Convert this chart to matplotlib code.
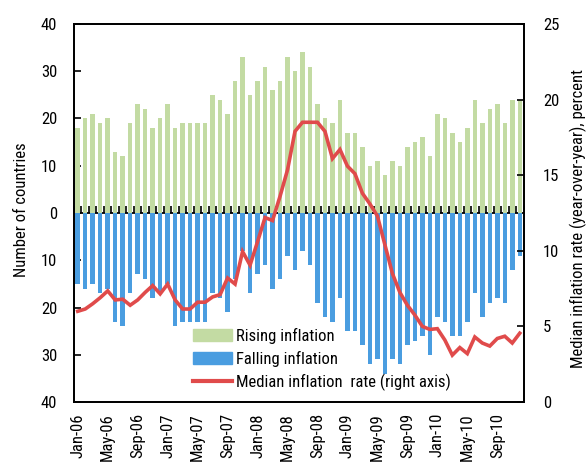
import numpy as np
import matplotlib
matplotlib.use("Agg")
import matplotlib.pyplot as plt
from matplotlib import font_manager as fm
from matplotlib.patches import Patch
from matplotlib.lines import Line2D

# ---------------- data ----------------
years = ["06", "07", "08", "09", "10"]
month_names = ["Jan", "Feb", "Mar", "Apr", "May", "Jun",
               "Jul", "Aug", "Sep", "Oct", "Nov", "Dec"]
months = [f"{m}-{y}" for y in years for m in month_names]

rising = [18, 20, 21, 19, 20, 13, 12, 19, 23, 22,
          18, 20, 23, 18, 19, 19, 19, 19, 25, 24,
          21, 28, 33, 25, 28, 31, 26, 28, 33, 30,
          34, 31, 23, 20, 19, 24, 17, 17, 14, 10,
          11, 8, 11, 10, 14, 15, 16, 12, 21, 20,
          17, 15, 18, 24, 19, 22, 23, 19, 24, 24]

falling = [15, 16, 15, 17, 16, 23, 24, 17, 13, 14,
           18, 17, 15, 24, 23, 23, 23, 23, 17, 18,
           21, 14, 8, 17, 13, 11, 16, 14, 9, 12,
           8, 11, 19, 22, 23, 18, 25, 25, 28, 32,
           31, 34, 31, 32, 28, 27, 26, 30, 22, 23,
           26, 26, 23, 17, 22, 19, 18, 19, 12, 9]

median = [6.0, 6.15, 6.5, 6.9, 7.35, 6.75, 6.8, 6.4, 6.75, 7.25,
          7.7, 7.15, 7.8, 6.75, 6.15, 6.15, 6.6, 6.6, 6.95, 7.1,
          8.2, 7.8, 9.95, 9.05, 10.6, 12.2, 12.0, 13.6, 15.35, 17.9,
          18.5, 18.5, 18.5, 17.9, 16.1, 16.7, 15.6, 15.1, 13.8, 13.1,
          12.3, 10.4, 8.5, 7.25, 6.4, 5.75, 5.0, 4.8, 4.85, 4.1,
          3.1, 3.6, 3.2, 4.3, 3.9, 3.7, 4.2, 4.35, 3.9, 4.55]

left_ticks = [-40, -30, -20, -10, 0, 10, 20, 30, 40]
right_ticks = [0, 5, 10, 15, 20, 25]

# ---------------- style ----------------
names = {f.name for f in fm.fontManager.ttflist}
family = "DejaVu Sans"
for cand in ["Liberation Sans Narrow", "Roboto Condensed", "Open Sans Condensed", "Liberation Sans"]:
    if cand in names:
        family = cand
        break
plt.rcParams["font.family"] = [family, "DejaVu Sans"]
FS = 12

GREEN = "#c3dba3"
BLUE = "#4a9de0"
RED = "#e04b4b"

fig = plt.figure(figsize=(5.87, 4.66), dpi=100)
ax = fig.add_axes([74 / 587, 1 - 402 / 466, (523.5 - 74) / 587, (402 - 24) / 466])

x = np.arange(len(months))
ax.bar(x, rising, width=0.6, color=GREEN, zorder=2)
ax.bar(x, -np.array(falling), width=0.6, color=BLUE, zorder=2)
ax.set_xlim(-0.5, len(months) - 0.5)
ax.set_ylim(-40, 40)
ax.set_yticks(left_ticks)
ax.set_yticklabels([str(abs(t)) for t in left_ticks])
ax.tick_params(axis="y", direction="in", length=5, width=1.2, labelsize=FS, pad=12)

# x tick labels every 4 months at bar centres
lab_idx = x[::4]
ax.set_xticks(lab_idx)
ax.set_xticklabels([months[i] for i in lab_idx], rotation=90, fontsize=FS)
ax.tick_params(axis="x", length=0, pad=8)

for s in ax.spines.values():
    s.set_linewidth(1.3)

# zero line with month-boundary tick marks
sec = ax.secondary_xaxis(0.5)
sec.set_xticks(np.arange(len(months) + 1) - 0.5)
sec.tick_params(axis="x", direction="out", length=5, width=1.2,
                labeltop=False, labelbottom=False)
for s in sec.spines.values():
    s.set_linewidth(1.3)

# right axis: median inflation
ax2 = ax.twinx()
ax2.plot(x, median, color=RED, lw=2.6, solid_joinstyle="miter", zorder=3)
ax2.set_ylim(0, 25)
ax2.set_yticks(right_ticks)
ax2.tick_params(axis="y", direction="in", length=5, width=1.2, labelsize=FS, pad=14)
for s in ax2.spines.values():
    s.set_linewidth(1.3)

fig.text(22 / 587, 1 - 210 / 466, "Number of countries", rotation=90,
         ha="center", va="center", fontsize=FS)
fig.text(578 / 587, 1 - 218 / 466, "Median inflation rate (year-over-year), percent",
         rotation=90, ha="center", va="center", fontsize=FS)

handles = [Patch(color=GREEN), Patch(color=BLUE), Line2D([], [], color=RED, lw=3)]
labels = ["Rising inflation", "Falling inflation", "Median inflation  rate (right axis)"]
ax2.legend(handles, labels, loc="upper left", bbox_to_anchor=(0.265, 0.197),
           frameon=False, fontsize=FS, borderpad=0, borderaxespad=0,
           handlelength=2.35, handletextpad=0.2, labelspacing=0.42)

fig.savefig("out.png", dpi=100)
